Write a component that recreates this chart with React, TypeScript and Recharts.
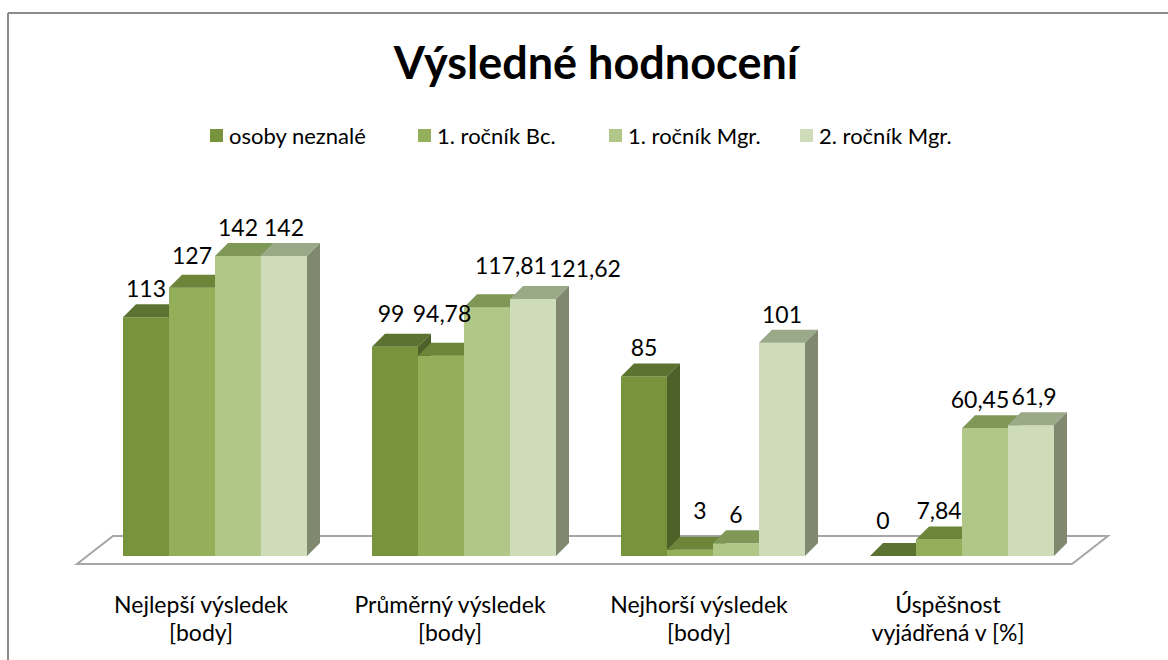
import React from "react";
import { BarChart, Bar, XAxis, YAxis, Legend, LabelList } from "recharts";

// categories (two-line labels) and the four series
const categories = [
  "Nejlepší výsledek\n[body]",
  "Průměrný výsledek\n[body]",
  "Nejhorší výsledek\n[body]",
  "Úspěšnost\nvyjádřená v [%]",
];
const seriesNames = ["osoby neznalé", "1. ročník Bc.", "1. ročník Mgr.", "2. ročník Mgr."];
const osobyNeznale = [113, 99, 85, 0];
const rocnikBc1 = [127, 94.78, 3, 7.84];
const rocnikMgr1 = [142, 117.81, 6, 60.45];
const rocnikMgr2 = [142, 121.62, 101, 61.9];

const W = 1168;
const H = 660;
const margin = { top: 218, right: 82.5, bottom: 0, left: 89.5 };
const AXIS_H = 104;
const DEPTH = 13;
const FONT = "Lato, 'Noto Sans', sans-serif";

const faces = [
  { front: "#77933c", top: "#5c7230", side: "#4e6128" },
  { front: "#93af59", top: "#6c8539", side: "#6a8337" },
  { front: "#b1c787", top: "#7f9858", side: "#889b69" },
  { front: "#cfdcba", top: "#9aa988", side: "#80896f" },
];

// label nudges (category index - series index) where Excel moved labels apart
const labelNudge: Record<string, [number, number]> = {
  "0-1": [0, -4],
  "1-0": [-4, -5],
  "1-1": [1, -14],
  "1-2": [24, -13],
  "1-3": [52, -2],
  "2-1": [10, -11],
  "3-0": [-10, -7],
  "3-2": [-5, 0],
  "3-3": [3, 0],
};

const legendItemWidth = [208, 191, 191, 200];

const rows = categories.map((name, i) => ({
  name,
  s0: osobyNeznale[i],
  s1: rocnikBc1[i],
  s2: rocnikMgr1[i],
  s3: rocnikMgr2[i],
}));

const fmt = (v: number) => String(v).replace(".", ",");

function makeBox(idx: number) {
  return (props: any) => {
    const { x, y, width: w, height: h } = props;
    if (x == null || y == null) return null;
    const c = faces[idx];
    const d = DEPTH;
    return (
      <g>
        <rect x={x} y={y} width={w} height={Math.max(h, 0)} fill={c.front} />
        <polygon
          points={`${x},${y} ${x + d},${y - d} ${x + w + d},${y - d} ${x + w},${y}`}
          fill={c.top}
        />
        <polygon
          points={`${x + w},${y} ${x + w + d},${y - d} ${x + w + d},${y + h - d} ${x + w},${y + h}`}
          fill={c.side}
        />
      </g>
    );
  };
}

function makeLabel(series: number) {
  return (p: any) => {
    if (p.x == null) return null;
    const [dx, dy] = labelNudge[`${p.index}-${series}`] || [0, 0];
    return (
      <text
        x={p.x + p.width / 2 + dx}
        y={p.y - 20 + dy}
        textAnchor="middle"
        fontSize={23}
        fontFamily={FONT}
        fill="#000"
      >
        {fmt(p.value)}
      </text>
    );
  };
}

const CategoryTick = ({ x, y, payload }: any) => {
  const lines = String(payload.value).split("\n");
  return (
    <text x={x - 13} y={y} textAnchor="middle" fontSize={23} fontFamily={FONT} fill="#000">
      {lines.map((l, i) => (
        <tspan key={i} x={x - 13} dy={i === 0 ? 57 : 28}>
          {l}
        </tspan>
      ))}
    </text>
  );
};

const LegendContent = () => (
  <div
    style={{
      display: "flex",
      justifyContent: "flex-start",
      alignItems: "center",
      paddingLeft: 210,
      fontFamily: FONT,
      fontSize: 22,
      color: "#000",
    }}
  >
    {seriesNames.map((n, i) => (
      <div key={n} style={{ display: "flex", alignItems: "center", width: legendItemWidth[i], whiteSpace: "nowrap" }}>
        <span
          style={{ width: 13, height: 13, background: faces[i].front, marginRight: 6, display: "inline-block" }}
        />
        <span>{n}</span>
      </div>
    ))}
  </div>
);

export default function App() {
  const base = H - AXIS_H;
  const plotL = margin.left;
  const plotR = W - margin.right;
  const floor = [
    [plotL - 12.5, base + 8],
    [plotR - 13.5, base + 8],
    [plotR + 22.5, base - 20],
    [plotL + 23.5, base - 20],
  ]
    .map((p) => p.join(","))
    .join(" ");

  return (
    <div style={{ position: "absolute", left: 0, top: 0, width: W, height: H, background: "#fff" }}>
      <svg width={W} height={H} style={{ position: "absolute", left: 0, top: 0 }}>
        <line x1={8} y1={13} x2={W} y2={13} stroke="#8c8c8c" strokeWidth={2} />
        <line x1={8} y1={13} x2={8} y2={H} stroke="#8c8c8c" strokeWidth={2} />
        <text x={596} y={79} textAnchor="middle" fontFamily={FONT} fontWeight={700} fontSize={45} fill="#000">
          Výsledné hodnocení
        </text>
        <polygon points={floor} fill="#fff" stroke="#a6a6a6" strokeWidth={2} />
      </svg>
      <div style={{ position: "absolute", left: 0, top: 0 }}>
        <BarChart
          width={W}
          height={H}
          data={rows}
          margin={margin}
          barCategoryGap={33.5}
          barGap={0}
        >
          <XAxis
            dataKey="name"
            tick={CategoryTick}
            tickLine={false}
            axisLine={false}
            tickSize={0}
            tickMargin={0}
            height={AXIS_H}
            interval={0}
          />
          <YAxis hide domain={[0, 160]} />
          <Legend
            layout="horizontal"
            verticalAlign="middle"
            align="center"
            content={<LegendContent />}
            wrapperStyle={{ top: 122, left: 0, width: W }}
          />
          {["s0", "s1", "s2", "s3"].map((k, i) => (
            <Bar
              key={k}
              dataKey={k}
              name={seriesNames[i]}
              fill={faces[i].front}
              shape={makeBox(i)}
              isAnimationActive={false}
            >
              <LabelList dataKey={k} content={makeLabel(i)} />
            </Bar>
          ))}
        </BarChart>
      </div>
    </div>
  );
}
